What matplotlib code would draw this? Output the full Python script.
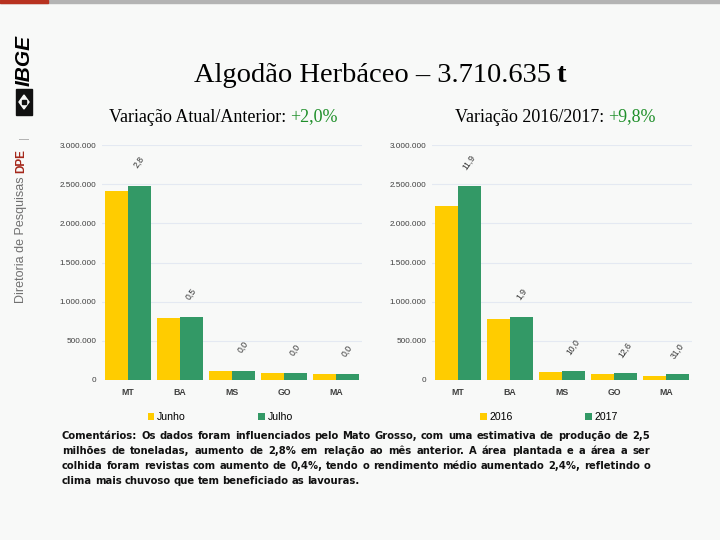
"""Algodão Herbáceo: produção por UF, comparação mensal e anual (slide IBGE)."""

import matplotlib

matplotlib.use("Agg")
import matplotlib.pyplot as plt
from matplotlib import font_manager
from matplotlib.patches import Polygon, Rectangle
from matplotlib.ticker import FuncFormatter, MultipleLocator

# ---- data -------------------------------------------------------------------
STATES = ["MT", "BA", "MS", "GO", "MA"]

JUNHO = [2413000, 795000, 119000, 85000, 73000]
JULHO = [2480000, 799000, 119000, 85000, 73000]
VAR_MENSAL = ["2,8", "0,5", "0,0", "0,0", "0,0"]

SAFRA_2016 = [2216000, 784000, 108000, 75500, 55700]
SAFRA_2017 = [2480000, 799000, 119000, 85000, 73000]
VAR_ANUAL = ["11,9", "1,9", "10,0", "12,6", "31,0"]

TITLE = "Algodão Herbáceo – 3.710.635"
TITLE_UNIT = "t"
SUB_LEFT = ("Variação Atual/Anterior: ", "+2,0%")
SUB_RIGHT = ("Variação 2016/2017: ", "+9,8%")
COMMENT_LINES = [
    "Comentários: Os dados foram influenciados pelo Mato Grosso, com uma estimativa de produção de 2,5",
    "milhões de toneladas, aumento de 2,8% em relação ao mês anterior. A área plantada e a área a ser",
    "colhida foram revistas com aumento de 0,4%, tendo o rendimento médio aumentado 2,4%, refletindo o",
    "clima mais chuvoso que tem beneficiado as lavouras.",
]

# ---- style ------------------------------------------------------------------
W, H = 720, 540
BG = "#f8f9f8"
YELLOW = "#ffcc00"
GREEN = "#339966"
TEXT_GREEN = "#1f8f2a"
SERIF = ["Liberation Serif", "DejaVu Serif"]
SANS = "Liberation Sans"


def _fx(px: float) -> float:
    return px / W


def _fy(py: float) -> float:
    return 1 - py / H


def _thousands(value: float, _pos: int) -> str:
    return f"{int(value):,}".replace(",", ".")


def _narrow_font() -> dict:
    """Pick an installed condensed bold sans, else Roboto."""
    candidates = [
        {"family": "Liberation Sans Narrow"},
        {"family": "DejaVu Sans Condensed"},
        {"family": "DejaVu Sans", "stretch": "condensed"},
        {"family": "Roboto Condensed"},
        {"family": "Noto Sans", "stretch": "condensed"},
        {"family": "Open Sans", "stretch": "condensed"},
    ]
    for cand in candidates:
        props = font_manager.FontProperties(weight="bold", **cand)
        try:
            path = font_manager.findfont(props, fallback_to_default=False)
        except ValueError:
            continue
        low = path.lower()
        if "narrow" in low or "condensed" in low:
            return {"family": cand["family"], "fontstretch": cand.get("stretch", "normal")}
    return {"family": "Roboto", "fontstretch": "normal"}


def _bar_panel(ax, first, second, labels, names, legend_x):
    xs = list(range(len(STATES)))
    width = 0.44
    ax.bar([x - width / 2 for x in xs], first, width, color=YELLOW, label=names[0], zorder=2)
    ax.bar([x + width / 2 for x in xs], second, width, color=GREEN, label=names[1], zorder=2)
    for x, top, txt in zip(xs, second, labels):
        ax.annotate(txt, (x + width / 2, top), xytext=(0, 17), textcoords="offset points",
                    rotation=55, ha="center", va="center", fontsize=6.2, color="#333333",
                    family=SANS, annotation_clip=False)
    ax.set_xlim(-0.5, len(STATES) - 0.5)
    ax.set_ylim(0, 3000000)
    ax.yaxis.set_major_locator(MultipleLocator(500000))
    ax.yaxis.set_major_formatter(FuncFormatter(_thousands))
    ax.set_xticks(xs)
    ax.set_xticklabels(STATES, fontsize=6.3, fontweight="bold", color="#404040", family=SANS)
    for lab in ax.get_yticklabels():
        lab.set_fontsize(5.9)
        lab.set_color("#404040")
        lab.set_family(SANS)
    ax.tick_params(length=0, pad=4)
    ax.tick_params(axis="x", pad=6)
    ax.grid(axis="y", color="#e4e9f2", linewidth=0.8, zorder=0)
    for spine in ax.spines.values():
        spine.set_visible(False)
    ax.set_facecolor(BG)
    ax.legend(loc="center", bbox_to_anchor=(legend_x, -0.157), ncol=2, frameon=False,
              handlelength=0.6, handleheight=0.6, handletextpad=0.25, columnspacing=6.9,
              prop={"family": SANS, "size": 7.6})


def main() -> None:
    fig = plt.figure(figsize=(W / 100, H / 100), dpi=100, facecolor=BG)

    # top strip
    fig.patches.append(Rectangle((0, _fy(3)), 1, 3 / H, transform=fig.transFigure,
                                 color="#b4b4b4", zorder=5))
    fig.patches.append(Rectangle((0, _fy(3)), _fx(48), 3 / H, transform=fig.transFigure,
                                 color="#b83220", zorder=6))

    # side branding
    fig.text(_fx(24), _fy(60), "IBGE", rotation=90, ha="center", va="center",
             fontsize=15, fontweight="bold", style="italic", family=SANS)
    fig.patches.append(Rectangle((_fx(16), _fy(115)), _fx(16), 26 / H,
                                 transform=fig.transFigure, color="#111111"))
    fig.patches.append(Polygon([(_fx(24), _fy(95)), (_fx(29), _fy(102)), (_fx(24), _fy(109)),
                                (_fx(19), _fy(102))], closed=True, transform=fig.transFigure,
                               color=BG))
    fig.patches.append(Rectangle((_fx(22), _fy(104)), _fx(4), 4 / H,
                                 transform=fig.transFigure, color="#111111"))
    fig.text(_fx(24), _fy(138), "|", rotation=90, ha="center", va="center",
             fontsize=8, color="#aaaaaa", family=SANS)
    fig.text(_fx(21), _fy(161), "DPE", rotation=90, ha="center", va="center",
             fontsize=8.5, fontweight="bold", color="#a5281b", family=SANS)
    fig.text(_fx(21), _fy(240), "Diretoria de Pesquisas", rotation=90, ha="center",
             va="center", fontsize=9, color="#707070", family=SANS)

    # title: regular text with a bold unit
    title = fig.text(_fx(372), _fy(75), TITLE, ha="center", va="center", fontsize=20.5,
                     family=SERIF)
    fig.canvas.draw()
    renderer = fig.canvas.get_renderer()
    bb = title.get_window_extent(renderer)
    fig.text((bb.x1 + 6) / W, _fy(75), TITLE_UNIT, ha="left", va="center", fontsize=20.5,
             fontweight="bold", family=SERIF)

    # subtitles
    for x0, (label, value) in ((109, SUB_LEFT), (455, SUB_RIGHT)):
        t = fig.text(_fx(x0), _fy(117), label.rstrip(), ha="left", va="center", fontsize=13,
                     family=SERIF)
        fig.canvas.draw()
        bb = t.get_window_extent(fig.canvas.get_renderer())
        fig.text((bb.x1 + 4) / W, _fy(117), value, ha="left", va="center", fontsize=13,
                 family=SERIF, color=TEXT_GREEN)

    ax_left = fig.add_axes([_fx(102), _fy(380), _fx(260), 235 / H])
    ax_right = fig.add_axes([_fx(432), _fy(380), _fx(260), 235 / H])
    _bar_panel(ax_left, JUNHO, JULHO, VAR_MENSAL, ("Junho", "Julho"), 0.455)
    _bar_panel(ax_right, SAFRA_2016, SAFRA_2017, VAR_ANUAL, ("2016", "2017"), 0.45)

    # justified comment block; shrink the font until the widest line fits
    font = _narrow_font()
    left_px, right_px = 62, 650
    line_ys = [436, 451, 466, 481]
    size = 9.8
    fig.canvas.draw()
    renderer = fig.canvas.get_renderer()
    while True:
        widest = 0.0
        for line in COMMENT_LINES:
            probe = fig.text(0, 0, line, fontsize=size, fontweight="bold", **font)
            widest = max(widest, probe.get_window_extent(renderer).width)
            probe.remove()
        if widest <= right_px - left_px or size < 6:
            break
        size -= 0.2
    for i, (line, y) in enumerate(zip(COMMENT_LINES, line_ys)):
        words = line.split(" ")
        last = i == len(COMMENT_LINES) - 1
        texts = [fig.text(0, _fy(y), w, ha="left", va="center", fontsize=size,
                          fontweight="bold", color="#111111", **font) for w in words]
        widths = [t.get_window_extent(renderer).width for t in texts]
        space = renderer.points_to_pixels(size) * 0.26
        if not last and len(words) > 1:
            space = (right_px - left_px - sum(widths)) / (len(words) - 1)
        x = left_px
        for t, w in zip(texts, widths):
            t.set_x(_fx(x))
            x += w + space

    fig.savefig("out.png", dpi=100, facecolor=BG)
    plt.close(fig)


if __name__ == "__main__":
    main()
